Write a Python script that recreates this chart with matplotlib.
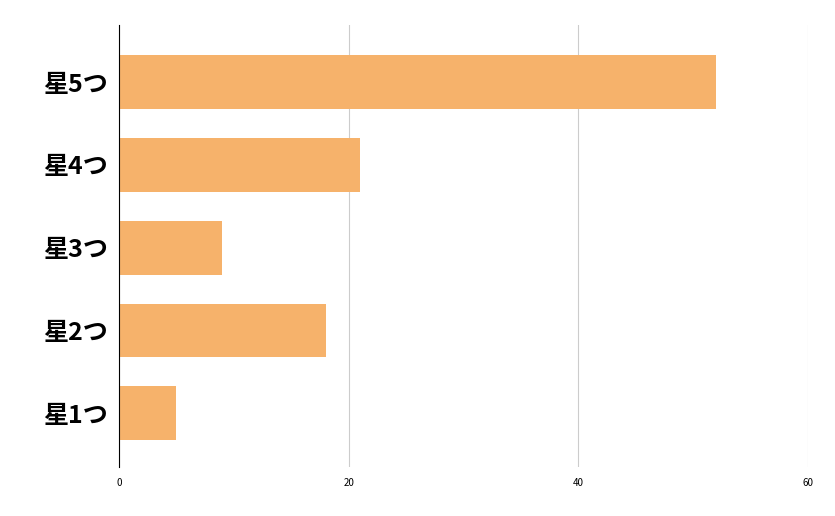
import matplotlib
matplotlib.use("Agg")
import matplotlib.pyplot as plt

categories = ["星1つ", "星2つ", "星3つ", "星4つ", "星5つ"]
values = [5, 18, 9, 21, 52]
xticks = [0, 20, 40, 60]

plt.rcParams['font.family'] = ['Noto Sans CJK JP', 'DejaVu Sans']
fig = plt.figure(figsize=(8.35, 5.16), dpi=100)
ax = fig.add_axes([0.1425, 0.095, 0.8252, 0.8566])
ax.barh(range(len(categories)), values, height=0.65, color="#F6B26B", zorder=2)
ax.set_xlim(0, 60)
ax.set_ylim(-0.65, 4.69)
ax.set_xticks(xticks)
ax.set_xticklabels([str(t) for t in xticks], fontsize=7)
ax.set_yticks(range(len(categories)))
ax.set_yticklabels(categories, fontsize=18, fontweight='bold')
ax.tick_params(length=0, pad=8)
ax.tick_params(axis='x', pad=8)
ax.grid(axis='x', color='#cccccc', linewidth=0.8, zorder=0)
for s in ['top', 'right', 'bottom']:
    ax.spines[s].set_visible(False)
ax.spines['left'].set_color('black')
ax.spines['left'].set_linewidth(0.8)
fig.savefig("out.png", dpi=100)
